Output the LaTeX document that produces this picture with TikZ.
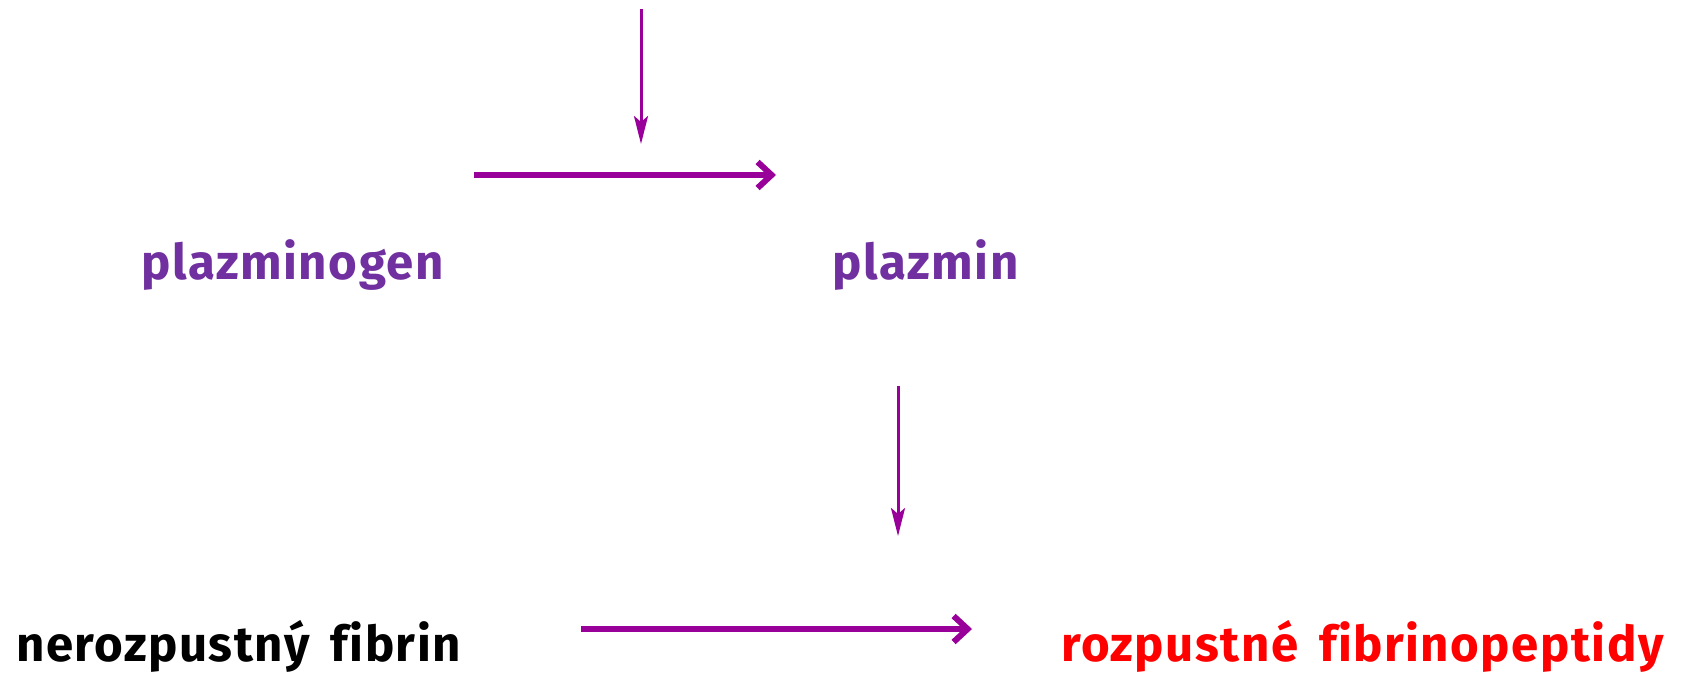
\documentclass[tikz,border=0pt]{standalone}
\usepackage{fontspec}
\setmainfont{Fira Sans}[Ligatures=CommonOff,LetterSpace=3,WordSpace=1.6]
\usetikzlibrary{arrows.meta}
\definecolor{arrowpurple}{HTML}{990099}
\definecolor{textpurple}{HTML}{7030A0}
\definecolor{textred}{HTML}{FF0000}
\begin{document}
\begin{tikzpicture}[x=0.5pt,y=-0.5pt,
  label node/.style={anchor=base west,inner sep=0pt,font=\bfseries\fontsize{24.6}{30}\selectfont},
  thin arrow/.style={draw=arrowpurple,line width=1.5pt,-{Stealth[length=14pt,width=7pt,inset=3pt]}},
  thick arrow/.style={draw=arrowpurple,line width=3pt,-{Straight Barb[length=7pt,width=13pt]}}]
  \useasboundingbox (0,0) rectangle (1706,673);

  \node[label node,text=textpurple] (pg) at (141,280) {plazminogen};
  \node[label node,text=textpurple] (pm) at (832,280) {plazmin};
  \node[label node] (nf) at (16,661) {nerozpustný fibrin};
  \node[label node,text=textred] (rf) at (1061,661) {rozpustné fibrinopeptidy};

  \coordinate (a1) at (641,9);
  \coordinate (a2) at (641,144);
  \coordinate (b1) at (474,175);
  \coordinate (b2) at (776,175);
  \coordinate (c1) at (898,386);
  \coordinate (c2) at (898,536);
  \coordinate (d1) at (581,629);
  \coordinate (d2) at (972,629);

  \path (a1) edge[thin arrow] (a2)
   (b1) edge[thick arrow] (b2)
   (c1) edge[thin arrow] (c2)
   (d1) edge[thick arrow] (d2);
\end{tikzpicture}
\end{document}
